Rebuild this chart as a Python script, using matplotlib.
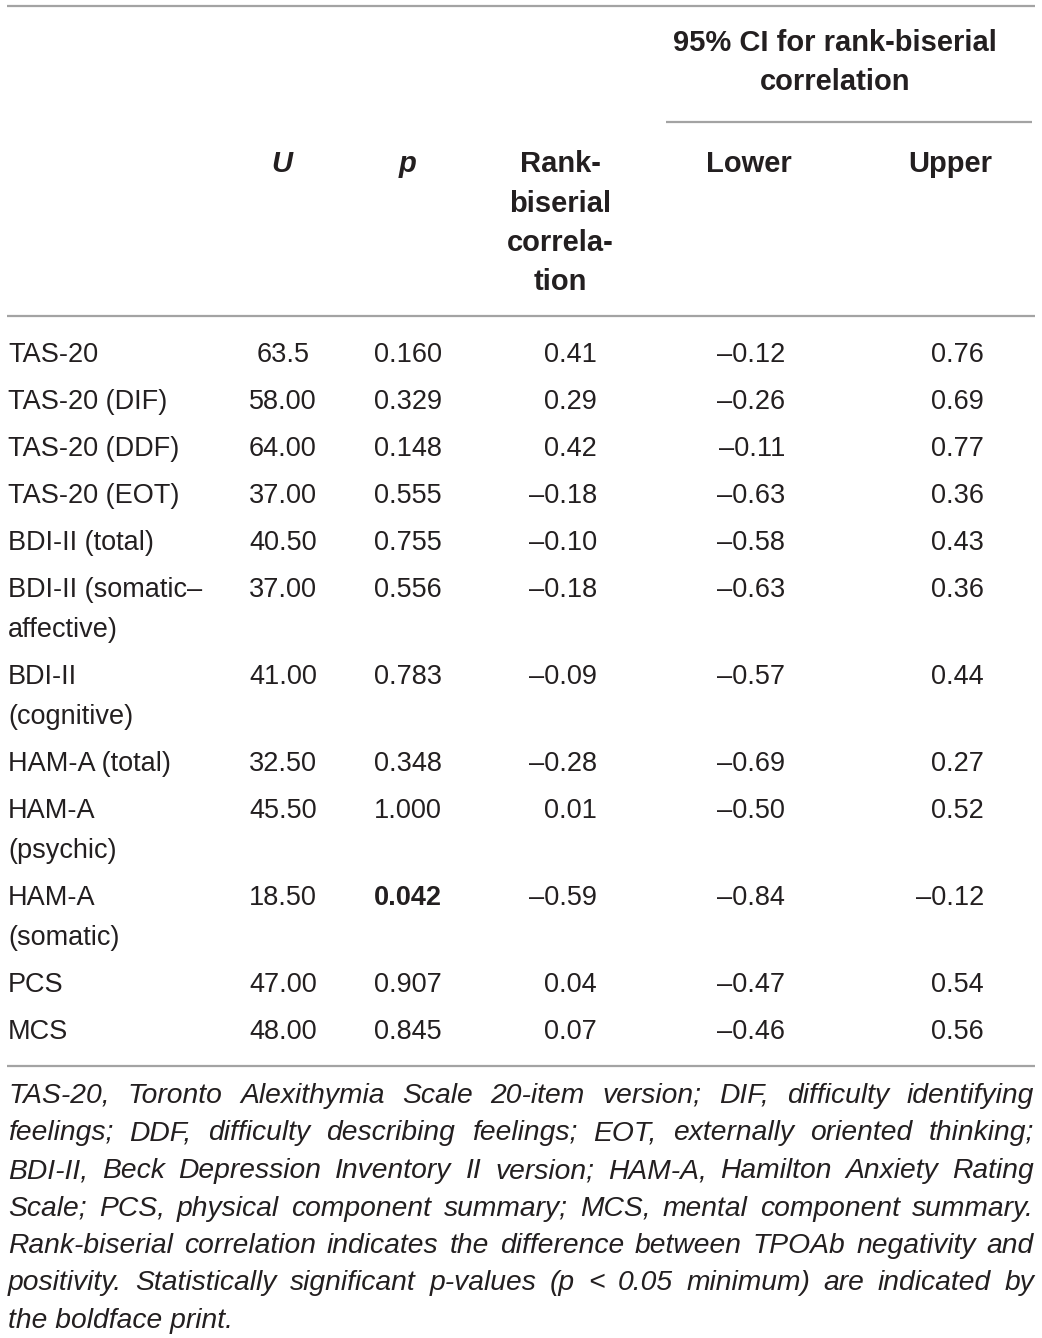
import matplotlib
matplotlib.use("Agg")
import matplotlib.pyplot as plt

# table content
labels = ["TAS-20", "TAS-20 (DIF)", "TAS-20 (DDF)", "TAS-20 (EOT)", "BDI-II (total)",
          "BDI-II (somatic–\naffective)", "BDI-II\n(cognitive)", "HAM-A (total)",
          "HAM-A\n(psychic)", "HAM-A\n(somatic)", "PCS", "MCS"]
u_vals = ["63.5", "58.00", "64.00", "37.00", "40.50", "37.00", "41.00", "32.50",
          "45.50", "18.50", "47.00", "48.00"]
p_vals = [0.160, 0.329, 0.148, 0.555, 0.755, 0.556, 0.783, 0.348, 1.000, 0.042, 0.907, 0.845]
rank_bis = [0.41, 0.29, 0.42, -0.18, -0.10, -0.18, -0.09, -0.28, 0.01, -0.59, 0.04, 0.07]
ci_lower = [-0.12, -0.26, -0.11, -0.63, -0.58, -0.63, -0.57, -0.69, -0.50, -0.84, -0.47, -0.46]
ci_upper = [0.76, 0.69, 0.77, 0.36, 0.43, 0.36, 0.44, 0.27, 0.52, -0.12, 0.54, 0.56]

footnote = [
    "TAS-20, Toronto Alexithymia Scale 20-item version; DIF, difficulty identifying",
    "feelings; DDF, difficulty describing feelings; EOT, externally oriented thinking;",
    "BDI-II, Beck Depression Inventory II version; HAM-A, Hamilton Anxiety Rating",
    "Scale; PCS, physical component summary; MCS, mental component summary.",
    "Rank-biserial correlation indicates the difference between TPOAb negativity and",
    "positivity. Statistically significant p-values (p < 0.05 minimum) are indicated by",
    "the boldface print.",
]

FONT = "Liberation Sans"
TXT = "#231f20"
RULE = "#a3a3a3"
BODY = 19.5
HEAD = 21
NOTE = 20.3


def fmt(v):
    return f"{v:.2f}".replace("-", "–")


fig = plt.figure(figsize=(10.42, 13.38), dpi=100)
ax = fig.add_axes([0, 0, 1, 1])
ax.set_xlim(0, 1042)
ax.set_ylim(1338, 0)
ax.axis("off")


def txt(x, y, s, ha="left", weight="normal", style="normal", size=BODY):
    return ax.text(x, y, s, ha=ha, va="baseline", fontsize=size, family=FONT,
                   fontweight=weight, fontstyle=style, color=TXT)


def rule(y, x0=7, x1=1035):
    ax.plot([x0, x1], [y, y], color=RULE, lw=1.6, solid_capstyle="butt")


# header
rule(6)
txt(835, 51, "95% CI for rank-biserial", ha="center", weight="bold", size=HEAD)
txt(835, 90, "correlation", ha="center", weight="bold", size=HEAD)
rule(122, 666, 1032)
txt(282, 172, "U", ha="center", weight="bold", style="italic", size=HEAD)
txt(408, 172, "p", ha="center", weight="bold", style="italic", size=HEAD)
for k, w in enumerate(["Rank-", "biserial", "correla-", "tion"]):
    txt(560, 172 + k * 39.5, w, ha="center", weight="bold", size=HEAD)
txt(749, 172, "Lower", ha="center", weight="bold", size=HEAD)
txt(950, 172, "Upper", ha="center", weight="bold", size=HEAD)
rule(316)

# body rows
y = 362
for i in range(len(labels)):
    lines = labels[i].split("\n")
    for k, ln in enumerate(lines):
        txt(8, y + k * 40, ln)
    txt(283, y, u_vals[i], ha="center")
    txt(408, y, f"{p_vals[i]:.3f}", ha="center",
        weight="bold" if p_vals[i] < 0.05 else "normal")
    txt(597, y, fmt(rank_bis[i]), ha="right")
    txt(785, y, fmt(ci_lower[i]), ha="right")
    txt(984, y, fmt(ci_upper[i]), ha="right")
    y += 47 + 40 * (len(lines) - 1)

rule(1066)

# justified italic footnote
fig.canvas.draw()
rend = fig.canvas.get_renderer()
left, right = 8, 1034
fy = 1103
for n, line in enumerate(footnote):
    words = line.split(" ")
    if n == len(footnote) - 1:
        txt(left, fy, line, style="italic", size=NOTE)
    else:
        arts = [txt(0, fy, w, style="italic", size=NOTE) for w in words]
        widths = [a.get_window_extent(rend).width for a in arts]
        gap = (right - left - sum(widths)) / (len(words) - 1)
        x = left
        for a, w in zip(arts, widths):
            a.set_x(x)
            x += w + gap
    fy += 37.5

fig.savefig("out.png", dpi=100)
